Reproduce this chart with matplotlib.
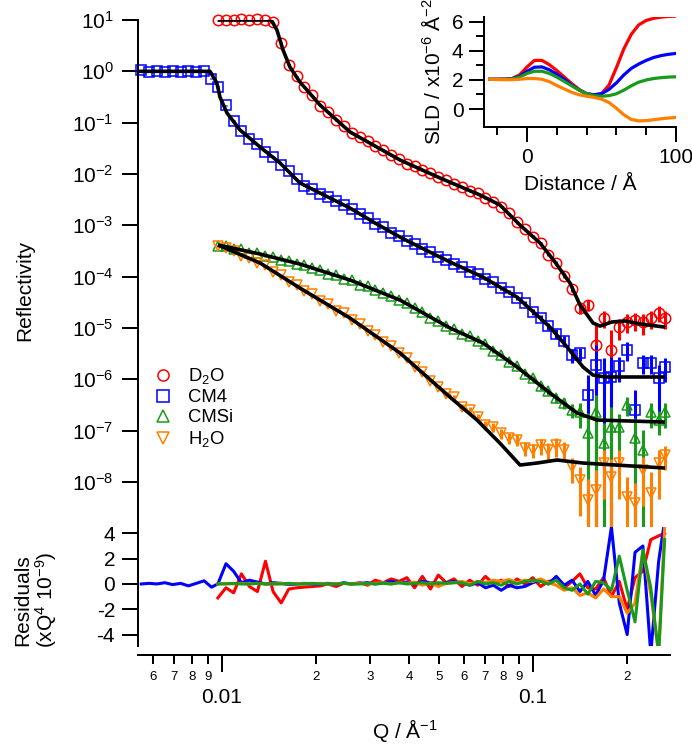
import numpy as np
import matplotlib
matplotlib.use("Agg")
import matplotlib.pyplot as plt
from matplotlib.lines import Line2D
from matplotlib.ticker import FixedLocator, FixedFormatter, NullLocator

plt.rcParams['font.family'] = ['Liberation Sans', 'DejaVu Sans']
plt.rcParams['mathtext.fontset'] = 'custom'
plt.rcParams['mathtext.rm'] = 'Liberation Sans'
plt.rcParams['mathtext.it'] = 'Liberation Sans:italic'
plt.rcParams['mathtext.bf'] = 'Liberation Sans:bold'
plt.rcParams['axes.unicode_minus'] = False

# ---- reflectivity data ----
q_low = [0.0055, 0.00583, 0.00618, 0.00655, 0.00694, 0.00736, 0.0078, 0.00827, 0.00876, 0.00925]
q_common = [0.0097, 0.0103, 0.0109, 0.01155, 0.01225, 0.0130, 0.0138, 0.0146, 0.0155, 0.0164,
            0.0174, 0.0184, 0.0195, 0.0207, 0.0219, 0.0233, 0.0246, 0.0261, 0.0277, 0.0294,
            0.0311, 0.0330, 0.0350, 0.0371, 0.0393, 0.0416, 0.0441, 0.0468, 0.0496, 0.0526,
            0.0557, 0.0591, 0.0626, 0.0664, 0.0703, 0.0746, 0.0790, 0.0838, 0.0888, 0.0941,
            0.0998, 0.1058, 0.1121, 0.1188, 0.1260, 0.1335, 0.1415, 0.1500, 0.1590, 0.1686,
            0.1787, 0.1894, 0.2008, 0.2128, 0.2256, 0.2391, 0.2535, 0.2650]

d2o_r = [9.8, 10.2, 9.9, 10.3, 10.0, 10.4, 10.1, 9.0, 3.6, 1.35,
         0.80, 0.50, 0.34, 0.215, 0.163, 0.112, 0.086, 0.062, 0.052, 0.043,
         0.0345, 0.029, 0.0232, 0.0195, 0.0160, 0.0142, 0.0117, 0.0103, 0.0086, 0.0075,
         0.0063, 0.0056, 0.00465, 0.0042, 0.0034, 0.0029, 0.00232, 0.00170, 0.00114, 8.6e-4,
         6.0e-4, 4.5e-4, 2.7e-4, 1.85e-4, 1.05e-4, 5.8e-5, 2.5e-5, 2.8e-5, 4.7e-6, 1.56e-5,
         3.7e-6, 1.05e-5, 1.31e-5, 1.43e-5, 1.31e-5, 1.56e-5, 2.0e-5, 1.56e-5]
d2o_err = [0.03, 0.03, 0.03, 0.03, 0.03, 0.03, 0.03, 0.03, 0.03, 0.03,
           0.02, 0.02, 0.02, 0.02, 0.02, 0.02, 0.02, 0.02, 0.02, 0.02,
           0.02, 0.02, 0.02, 0.02, 0.02, 0.02, 0.02, 0.02, 0.02, 0.02,
           0.03, 0.03, 0.03, 0.03, 0.03, 0.03, 0.04, 0.04, 0.05, 0.05,
           0.06, 0.07, 0.08, 0.10, 0.12, 0.15, 0.25, 0.25, 1.5, 0.35,
           1.5, 0.45, 0.4, 0.4, 0.45, 0.4, 0.35, 0.4]

cm4_r = [1.04, 0.97, 1.02, 0.98, 1.01, 0.99, 1.02, 0.98, 1.03, 0.72,
         0.50, 0.22, 0.11, 0.070, 0.048, 0.038, 0.027, 0.0215, 0.0150, 0.0112,
         0.0080, 0.0059, 0.0052, 0.0041, 0.0036, 0.0030, 0.00245, 0.00212, 0.00165, 0.00138,
         0.00108, 9.2e-4, 7.2e-4, 6.2e-4, 4.9e-4, 4.4e-4, 3.5e-4, 3.05e-4, 2.45e-4, 2.15e-4,
         1.74e-4, 1.55e-4, 1.26e-4, 1.13e-4, 9.0e-5, 7.7e-5, 5.9e-5, 5.1e-5, 3.9e-5, 3.0e-5,
         2.05e-5, 1.58e-5, 1.07e-5, 7.8e-6, 5.6e-6, 3.0e-6, 3.2e-6, 4.9e-7, 1.9e-6, 1.06e-6,
         1.11e-6, 1.8e-6, 3.8e-6, 2.5e-7, 2.1e-6, 2.1e-6, 1.06e-6, 1.74e-6]
cm4_err = [0.02, 0.02, 0.02, 0.02, 0.02, 0.02, 0.02, 0.02, 0.02, 0.02,
           0.02, 0.02, 0.02, 0.02, 0.02, 0.02, 0.02, 0.02, 0.02, 0.02,
           0.02, 0.02, 0.02, 0.02, 0.02, 0.02, 0.02, 0.02, 0.02, 0.02,
           0.03, 0.03, 0.03, 0.03, 0.03, 0.03, 0.03, 0.03, 0.03, 0.03,
           0.04, 0.04, 0.04, 0.05, 0.05, 0.06, 0.07, 0.08, 0.09, 0.10,
           0.12, 0.14, 0.16, 0.2, 0.25, 0.3, 0.3, 1.5, 1.5, 1.5,
           1.5, 0.5, 0.4, 1.5, 0.4, 0.4, 0.8, 0.5]

cmsi_r = [4.0e-4, 3.9e-4, 3.4e-4, 3.4e-4, 2.95e-4, 2.9e-4, 2.5e-4, 2.45e-4, 2.1e-4, 2.05e-4,
          1.78e-4, 1.72e-4, 1.45e-4, 1.36e-4, 1.15e-4, 1.08e-4, 9.1e-5, 8.7e-5, 7.0e-5, 6.5e-5,
          5.4e-5, 4.8e-5, 4.2e-5, 3.5e-5, 3.05e-5, 2.4e-5, 2.05e-5, 1.6e-5, 1.38e-5, 1.07e-5,
          9.5e-6, 7.6e-6, 6.9e-6, 5.6e-6, 4.8e-6, 3.6e-6, 2.95e-6, 2.2e-6, 1.8e-6, 1.28e-6,
          1.04e-6, 7.3e-7, 5.9e-7, 4.3e-7, 3.5e-7, 2.5e-7, 2.3e-7, 9.0e-8, 2.3e-7, 5.75e-8,
          1.18e-7, 1.18e-7, 3.2e-7, 7.2e-8, 4.2e-8, 2.3e-7, 1.61e-7, 2.3e-7]
cmsi_err = [0.04, 0.04, 0.04, 0.04, 0.04, 0.04, 0.04, 0.04, 0.04, 0.04,
            0.03, 0.03, 0.03, 0.03, 0.03, 0.03, 0.03, 0.03, 0.03, 0.03,
            0.03, 0.03, 0.03, 0.03, 0.03, 0.04, 0.04, 0.04, 0.05, 0.05,
            0.05, 0.06, 0.06, 0.07, 0.07, 0.08, 0.08, 0.09, 0.1, 0.1,
            0.12, 0.14, 0.16, 0.2, 0.25, 0.3, 0.5, 1.5, 1.2, 1.5,
            1.5, 0.8, 0.4, 1.5, 1.5, 0.5, 0.5, 0.5]

h2o_r = [4.0e-4, 3.6e-4, 3.2e-4, 2.5e-4, 2.35e-4, 1.85e-4, 1.65e-4, 1.22e-4, 1.06e-4, 7.9e-5,
         6.9e-5, 5.2e-5, 4.5e-5, 3.3e-5, 2.95e-5, 2.15e-5, 1.95e-5, 1.42e-5, 1.2e-5, 8.7e-6,
         7.4e-6, 5.3e-6, 4.5e-6, 3.2e-6, 2.6e-6, 1.75e-6, 1.42e-6, 9.4e-7, 7.2e-7, 5.2e-7,
         4.6e-7, 2.95e-7, 2.5e-7, 1.86e-7, 1.29e-7, 1.17e-7, 8.9e-8, 7.2e-8, 6.6e-8, 4.6e-8,
         4.2e-8, 5.2e-8, 4.2e-8, 5.2e-8, 4.2e-8, 1.95e-8, 1.1e-8, 4.5e-9, 6.9e-9, 2.34e-8,
         1.26e-8, 2.34e-8, 5.1e-9, 3.9e-9, 1.7e-8, 6.2e-9, 2.34e-8, 3.4e-8]
h2o_err = [0.04, 0.04, 0.04, 0.04, 0.04, 0.04, 0.04, 0.04, 0.04, 0.04,
           0.03, 0.03, 0.03, 0.03, 0.03, 0.03, 0.03, 0.03, 0.03, 0.03,
           0.03, 0.03, 0.04, 0.04, 0.05, 0.05, 0.06, 0.06, 0.07, 0.08,
           0.1, 0.12, 0.14, 0.15, 0.18, 0.2, 0.22, 0.25, 0.25, 0.3,
           0.3, 0.35, 0.35, 0.4, 0.4, 0.5, 0.8, 1.5, 1.5, 0.8,
           1.2, 0.8, 1.5, 1.5, 0.8, 1.5, 0.8, 0.5]

# ---- fitted curves ----
d2o_fit_q = [0.00971, 0.0144, 0.01502, 0.01571, 0.01654, 0.01781, 0.02066, 0.0258, 0.03735, 0.05023,
             0.06755, 0.07829, 0.09082, 0.10532, 0.11766, 0.13152, 0.14162, 0.15596, 0.16421, 0.17947,
             0.19758, 0.2208, 0.26575]
d2o_fit_r = [10.0, 10.0, 6.38, 2.61, 1.21, 0.619, 0.221, 0.0658, 0.01875, 0.00836,
             0.0039, 0.00249, 0.00101, 4.53e-4, 1.93e-4, 7.5e-5, 2.8e-5, 1.25e-5, 1.09e-5, 1.31e-5,
             1.37e-5, 1.2e-5, 1.04e-5]
cm4_fit_q = [0.00537, 0.00915, 0.00963, 0.00985, 0.01038, 0.01143, 0.01325, 0.01537, 0.01781, 0.02225,
             0.0258, 0.03105, 0.03735, 0.04665, 0.05408, 0.06906, 0.08884, 0.11338, 0.12862, 0.14481,
             0.15596, 0.1704, 0.26575]
cm4_fit_r = [1.0, 1.0, 0.593, 0.316, 0.154, 0.0719, 0.0336, 0.01637, 0.00668, 0.0034,
             0.00217, 0.00111, 5.9e-4, 3.0e-4, 1.93e-4, 9.8e-5, 4.0e-5, 1.04e-5, 4.27e-6, 1.74e-6,
             1.21e-6, 1.11e-6, 1.11e-6]
cmsi_fit_q = [0.00971, 0.01325, 0.01781, 0.0258, 0.03735, 0.05408, 0.06906, 0.08884, 0.11338, 0.13852,
              0.16062, 0.26575]
cmsi_fit_r = [4.14e-4, 2.76e-4, 1.76e-4, 8.6e-5, 3.5e-5, 1.0e-5, 5.1e-6, 1.74e-6, 5.4e-7, 2.21e-7,
              1.61e-7, 1.47e-7]
h2o_fit_q = [0.00971, 0.01325, 0.01781, 0.0258, 0.03735, 0.05408, 0.06607, 0.07829, 0.09082, 0.10301,
             0.11943, 0.14481, 0.26575]
h2o_fit_r = [4.14e-4, 1.85e-4, 6.0e-5, 1.56e-5, 3.26e-6, 4.5e-7, 1.61e-7, 5.7e-8, 2.14e-8, 2.34e-8,
             2.68e-8, 2.34e-8, 1.87e-8]

# ---- residuals (x Q^4 1e-9) ----
d2o_res = [-1.1, -0.3, -0.7, 0.8, -0.2, -0.6, 1.8, -0.6, -1.5, -0.4,
           -0.3, -0.25, -0.2, -0.15, 0.0, -0.2, 0.05, 0.0, 0.1, -0.1,
           0.3, 0.1, 0.4, 0.2, 0.5, -0.3, 0.6, -0.4, 0.7, 0.1,
           0.4, -0.2, 0.3, -0.1, 0.6, 0.0, 0.3, -0.2, 0.4, 0.0,
           0.5, -0.2, 0.2, 0.3, -0.3, 0.2, 0.8, -0.3, -0.4, 0.5,
           -1.0, 0.2, -2.0, 0.5, 1.0, 3.5, 3.8, 4.0]
cm4_res = [0.0, 0.05, 0.0, 0.1, -0.05, 0.05, -0.15, 0.05, 0.25, -0.25,
           0.0, 1.6, 1.0, 0.1, 0.3, 0.15, 0.0, 0.1, 0.05, -0.05,
           0.0, 0.05, -0.05, 0.0, 0.05, -0.05, 0.1, 0.0, 0.05, 0.1,
           0.0, 0.1, 0.2, 0.1, 0.15, 0.0, 0.2, 0.1, 0.0, 0.1,
           0.2, 0.1, -0.1, 0.1, -0.3, -0.1, -0.5, -0.1, -0.3, -0.2,
           0.1, 0.3, 0.0, 0.6, -0.1, 0.3, -0.6, 0.2, -0.9, 0.3,
           4.5, -1.5, -4.0, 2.5, 3.0, -5.5, 1.8, 5.0]
cmsi_res = [0.0, 0.0, 0.05, 0.0, 0.0, 0.05, 0.0, 0.0, 0.0, 0.05,
            0.0, 0.0, 0.05, 0.0, 0.0, 0.0, 0.05, 0.0, 0.0, 0.05,
            0.0, 0.05, 0.0, 0.1, 0.0, 0.05, 0.1, 0.0, 0.1, 0.05,
            0.1, 0.1, -0.1, 0.2, 0.0, 0.1, -0.1, 0.2, 0.0, 0.2,
            0.3, 0.2, 0.0, 0.3, -0.3, -0.5, 0.0, -0.8, 0.2, 0.1,
            -0.5, 2.2, -0.5, -3.0, 2.7, -0.3, -5.5, 3.5]
h2o_res = [0.0, 0.05, 0.0, 0.05, 0.0, 0.05, 0.0, 0.0, 0.05, 0.0,
           0.05, 0.0, 0.0, 0.05, 0.0, 0.0, 0.05, 0.0, 0.05, 0.0,
           0.05, 0.1, 0.0, 0.1, 0.05, 0.15, -0.1, 0.1, -0.2, 0.05,
           0.1, 0.2, 0.0, 0.2, 0.1, 0.3, 0.2, 0.35, 0.1, 0.3,
           0.2, 0.4, 0.1, -0.1, -0.5, -0.3, -0.9, -0.7, -1.1, -0.4,
           -1.0, -1.0, -2.3, -1.5, 2.6, -0.8, -5.5, 4.5]

# ---- SLD profiles (inset) ----
dist = [-25, -20, -15, -10, -5, 0, 5, 10, 15, 20, 25, 30, 35, 40, 45, 50,
        55, 60, 65, 70, 75, 80, 85, 90, 95, 100]
sld_d2o = [2.05, 2.05, 2.06, 2.1, 2.35, 2.9, 3.35, 3.35, 3.05, 2.65, 2.2, 1.75, 1.35, 1.05, 0.98, 1.05,
           1.65, 2.85, 4.15, 5.15, 5.8, 6.1, 6.25, 6.33, 6.38, 6.4]
sld_cm4 = [2.05, 2.05, 2.05, 2.08, 2.25, 2.6, 2.88, 2.9, 2.7, 2.4, 2.05, 1.65, 1.3, 1.05, 0.98, 1.05,
           1.35, 1.8, 2.35, 2.8, 3.1, 3.35, 3.55, 3.68, 3.77, 3.83]
sld_cmsi = [2.05, 2.05, 2.05, 2.07, 2.2, 2.45, 2.6, 2.6, 2.45, 2.2, 1.9, 1.6, 1.3, 1.05, 0.92, 0.88,
            0.92, 1.05, 1.3, 1.6, 1.85, 2.0, 2.1, 2.16, 2.2, 2.22]
sld_h2o = [2.05, 2.03, 2.02, 2.02, 2.05, 2.1, 2.1, 2.05, 1.88, 1.62, 1.38, 1.15, 0.98, 0.88, 0.8, 0.68,
           0.45, 0.05, -0.4, -0.72, -0.82, -0.8, -0.74, -0.67, -0.62, -0.58]

labels = ['D$_2$O', 'CM4', 'CMSi', 'H$_2$O']
colors = ['#ff0000', '#0000ff', '#1a9a1a', '#ff8000']
markers = ['o', 's', '^', 'v']

y_exps = [1, 0, -1, -2, -3, -4, -5, -6, -7, -8]
x_major = [0.01, 0.1]
x_major_labels = ['0.01', '0.1']
x_minor = [0.006, 0.007, 0.008, 0.009, 0.02, 0.03, 0.04, 0.05, 0.06, 0.07, 0.08, 0.09, 0.2]
x_minor_labels = ['6', '7', '8', '9', '2', '3', '4', '5', '6', '7', '8', '9', '2']
res_ticks = [-4, -2, 0, 2, 4]

W, H = 692, 744
LW = 1.44


def px_box(x0, y0, x1, y1):
    return [x0 / W, 1 - y1 / H, (x1 - x0) / W, (y1 - y0) / H]


fig = plt.figure(figsize=(W / 100, H / 100), dpi=100)
ax = fig.add_axes(px_box(138, 20, 670, 527))
rax = fig.add_axes(px_box(138, 527, 670, 646))
iax = fig.add_axes(px_box(484, 17, 676, 127))

# main reflectivity panel
data = [
    (q_common, d2o_r, d2o_err, d2o_fit_q, d2o_fit_r),
    (q_low + q_common, cm4_r, cm4_err, cm4_fit_q, cm4_fit_r),
    (q_common, cmsi_r, cmsi_err, cmsi_fit_q, cmsi_fit_r),
    (q_common, h2o_r, h2o_err, h2o_fit_q, h2o_fit_r),
]
for (q, r, e, fq, fr), c, m in zip(data, colors, markers):
    r = np.array(r)
    e = np.array(e) * r
    pl, caps, bars = ax.errorbar(q, r, yerr=e, fmt=m, ms=7.5, mfc='none', mec=c, mew=1.1,
                                 ecolor=c, elinewidth=2.2, capsize=0, zorder=2)
    pl.set_clip_on(False)
for (q, r, e, fq, fr) in data:
    ax.plot(fq, fr, color='black', lw=2.6, zorder=5, solid_capstyle='butt')

ax.set_xscale('log')
ax.set_yscale('log')
ax.set_xlim(0.00537, 0.2757)
ax.set_ylim(10 ** -8.877, 10)
for s in ['top', 'right', 'bottom']:
    ax.spines[s].set_visible(False)
ax.spines['left'].set_linewidth(LW)
ax.yaxis.set_major_locator(FixedLocator([10.0 ** k for k in y_exps]))
ax.yaxis.set_major_formatter(FixedFormatter(['$10^{%d}$' % k for k in y_exps]))
ax.yaxis.set_minor_locator(NullLocator())
ax.tick_params(axis='y', which='major', direction='out', length=11.5, width=LW, labelsize=15, pad=6)
ax.tick_params(axis='x', which='both', bottom=False, labelbottom=False)

handles = [Line2D([], [], ls='none', marker=m, ms=8, mfc='none', mec=c, mew=1.1)
           for m, c in zip(markers, colors)]
ax.legend(handles, labels, loc='upper left', bbox_to_anchor=(153 / W, 1 - 366 / H),
          bbox_transform=fig.transFigure, frameon=False, fontsize=13.3, handlelength=1.1,
          handletextpad=0.8, labelspacing=0.17, borderpad=0, borderaxespad=0)

# residuals panel
res_sets = [(q_common, d2o_res, colors[0]), (q_low + q_common, cm4_res, colors[1]),
            (q_common, h2o_res, colors[3]), (q_common, cmsi_res, colors[2])]
for q, res, c in res_sets:
    rax.plot(q, res, color=c, lw=2.2)
rax.set_xscale('log')
rax.set_xlim(0.00537, 0.2757)
rax.set_ylim(-4.9, 4.5)
for s in ['top', 'right']:
    rax.spines[s].set_visible(False)
rax.spines['left'].set_linewidth(LW)
rax.spines['bottom'].set_linewidth(LW)
rax.spines['bottom'].set_position(('outward', 6.5))
rax.yaxis.set_major_locator(FixedLocator(res_ticks))
rax.yaxis.set_major_formatter(FixedFormatter([str(t) for t in res_ticks]))
rax.tick_params(axis='y', which='major', direction='out', length=11.5, width=LW, labelsize=15, pad=5)
rax.xaxis.set_major_locator(FixedLocator(x_major))
rax.xaxis.set_major_formatter(FixedFormatter(x_major_labels))
rax.xaxis.set_minor_locator(FixedLocator(x_minor))
rax.xaxis.set_minor_formatter(FixedFormatter(x_minor_labels))
rax.tick_params(axis='x', which='major', direction='out', length=12, width=LW, labelsize=15, pad=12)
rax.tick_params(axis='x', which='minor', direction='out', length=6.5, width=LW, labelsize=9.5, pad=5)

# SLD inset
for y, c in zip([sld_d2o, sld_cm4, sld_cmsi, sld_h2o], colors):
    iax.plot(dist, y, color=c, lw=2.3)
iax.set_xlim(-28.9, 100)
iax.set_ylim(-1.24, 6.34)
iax.patch.set_alpha(0)
for s in ['top', 'right']:
    iax.spines[s].set_visible(False)
iax.spines['left'].set_linewidth(LW)
iax.spines['bottom'].set_linewidth(LW)
iax.yaxis.set_major_locator(FixedLocator([0, 2, 4, 6]))
iax.yaxis.set_minor_locator(FixedLocator([1, 3, 5]))
iax.xaxis.set_major_locator(FixedLocator([0, 100]))
iax.xaxis.set_minor_locator(FixedLocator([-20, 20, 40, 60, 80]))
iax.tick_params(which='major', direction='out', length=10.8, width=LW, labelsize=15, pad=4)
iax.tick_params(which='minor', direction='out', length=6, width=LW)

# axis titles
fig.text(25 / W, 1 - 290 / H, 'Reflectivity', rotation=90, ha='center', va='center', fontsize=15)
fig.text(36 / W, 1 - 600 / H, 'Residuals\n(xQ$^4$ 10$^{-9}$)', rotation=90, ha='center', va='center',
         fontsize=15, linespacing=1.05, multialignment='center')
fig.text(405 / W, 1 - 730 / H, 'Q / Å$^{-1}$', ha='center', va='center', fontsize=15)
fig.text(580 / W, 1 - 185 / H, 'Distance / Å', ha='center', va='center', fontsize=15)
fig.text(432 / W, 1 - 72 / H, 'SLD / x10$^{-6}$ Å$^{-2}$', rotation=90, ha='center', va='center', fontsize=15)

fig.savefig('out.png', dpi=100)
